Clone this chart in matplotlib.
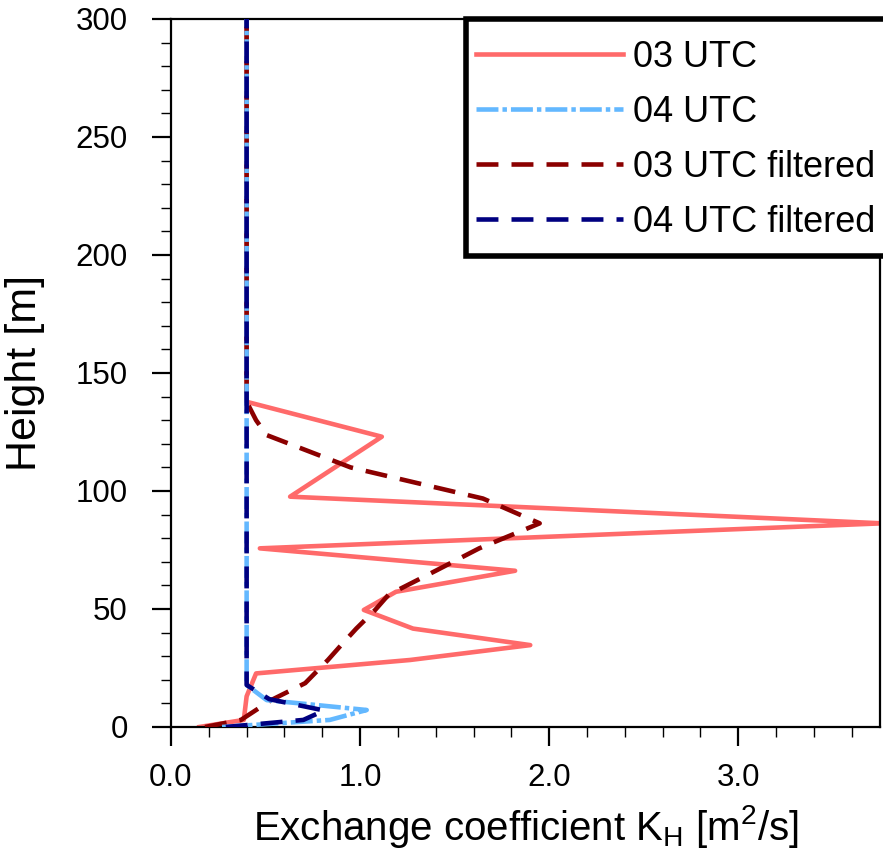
import matplotlib
matplotlib.use("Agg")
import matplotlib.pyplot as plt
from matplotlib.patches import Rectangle

plt.rcParams["font.family"] = ["Liberation Sans", "DejaVu Sans"]
plt.rcParams["mathtext.fontset"] = "custom"
plt.rcParams["mathtext.rm"] = "Liberation Sans"
plt.rcParams["mathtext.it"] = "Liberation Sans"
plt.rcParams["lines.scale_dashes"] = False

# K_H profiles (x: m2/s, y: height in m)
k_03 = [0.15, 0.385, 0.40, 0.45, 1.265, 1.90, 1.28, 1.02, 1.19, 1.82, 0.47, 3.76, 0.63, 1.115, 0.40, 0.40]
z_03 = [0, 3, 13, 22.7, 28.4, 34.7, 41.7, 49.6, 57.3, 66.2, 75.7, 86.3, 97.6, 123, 137.8, 300]

k_04 = [0.27, 0.84, 1.035, 0.506, 0.40, 0.40]
z_04 = [0, 3, 7.2, 11.4, 17.8, 300]

k_03f = [0.18, 0.37, 0.53, 0.71, 0.83, 0.90, 0.98, 1.08, 1.15, 1.40, 1.63, 1.95, 1.65, 0.95, 0.506, 0.45, 0.40, 0.40]
z_03f = [0, 3, 11.4, 18.6, 28.4, 34.7, 41.7, 49.6, 56, 66.2, 75.7, 86.3, 96.8, 110, 123.7, 130, 137.8, 300]

k_04f = [0.29, 0.70, 0.81, 0.52, 0.40, 0.40]
z_04f = [0, 3, 7, 11.8, 17.8, 300]

labels = ["03 UTC", "04 UTC", "03 UTC filtered", "04 UTC filtered"]
xticks = [0.0, 1.0, 2.0, 3.0]
yticks = [0, 50, 100, 150, 200, 250, 300]

W, H = 883, 863
fig = plt.figure(figsize=(W / 100, H / 100), dpi=100)
ax = fig.add_axes([171 / W, 1 - 727 / H, (880 - 171) / W, (727 - 19) / H])

lw = 3.3
l1, = ax.plot(k_03, z_03, color="#ff6a6a", lw=lw, zorder=2)
l3, = ax.plot(k_03f, z_03f, color="#8b0000", lw=lw, dashes=(15.8, 9.4), zorder=3)
l2, = ax.plot(k_04, z_04, color="#63b8ff", lw=lw, dashes=(15.8, 2.9, 3.2, 2.9), zorder=4)
l4, = ax.plot(k_04f, z_04f, color="#000080", lw=lw, dashes=(15.8, 9.4), zorder=5)

ax.set_xlim(0, 3.75)
ax.set_ylim(0, 300)
ax.set_xticks(xticks)
ax.set_xticklabels([f"{v:.1f}" for v in xticks])
ax.set_yticks(yticks)
ax.set_yticklabels([str(v) for v in yticks])
ax.set_xticks([i * 0.2 for i in range(19)], minor=True)
ax.set_yticks(range(0, 301, 10), minor=True)

for s in ax.spines.values():
    s.set_linewidth(1.6)
ax.tick_params(which="major", direction="out", length=14, width=1.6, labelsize=22.5, pad=17)
ax.tick_params(which="minor", direction="out", length=7, width=1.0)
ax.tick_params(axis="x", pad=12)
ax.tick_params(top=False, right=False, which="both")

ax.set_ylabel("Height [m]", fontsize=31)
ax.yaxis.set_label_coords(-0.178, 0.5)
ax.set_xlabel(r"Exchange coefficient K$_\mathrm{H}$ [m$^2$/s]", fontsize=29)
ax.xaxis.set_label_coords(0.5, -0.108)

# legend box runs off the right edge, as in the original
box = Rectangle((466 / W, 1 - 256 / H), 500 / W, (256 - 19) / H, transform=fig.transFigure,
                fill=True, facecolor="white", edgecolor="black", lw=4.0, zorder=5)
fig.patches.append(box)
leg = fig.legend([l1, l2, l3, l4], labels, loc="upper left",
                 bbox_to_anchor=(476 / W, 1 - 40 / H), frameon=False,
                 fontsize=26, handlelength=4.07, handletextpad=0.28,
                 labelspacing=0.55, borderpad=0, borderaxespad=0)
leg.set_zorder(6)

fig.savefig("out.png", dpi=100)
